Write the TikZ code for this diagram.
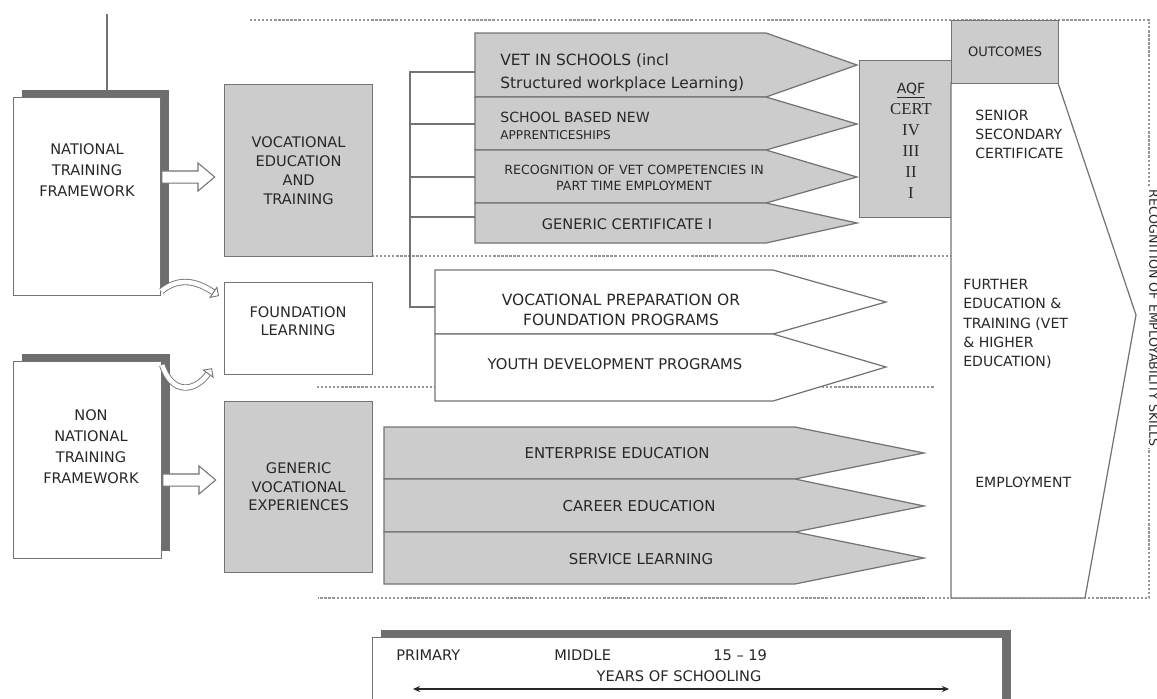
\documentclass[tikz,border=0pt]{standalone}
\usepackage{fontspec}
\setmainfont{DejaVu Sans}
\newfontfamily\aqffont{Liberation Serif}
\usepackage{tikz}
\usetikzlibrary{arrows.meta,shapes.arrows,positioning,shadows}
\definecolor{vgray}{RGB}{204,204,204}
\definecolor{vline}{RGB}{115,115,115}
\definecolor{vshadow}{RGB}{110,110,110}
\definecolor{vtext}{RGB}{40,40,40}
\definecolor{vdot}{RGB}{150,150,150}
\tikzstyle{plainbox} = [rectangle, draw=vline, fill=white, line width=0.7pt, inner sep=0pt, anchor=north west]
\tikzstyle{graybox} = [plainbox, fill=vgray]
\tikzstyle{framebox} = [plainbox, drop shadow={shadow xshift=0.17cm, shadow yshift=0.16cm, fill=vshadow, opacity=1}]
\tikzstyle{txt} = [font=\fontsize{8.3}{11.5}\selectfont, text=vtext, align=center, inner sep=0pt]
\tikzstyle{dotline} = [vdot, line width=0.6pt, dash pattern=on 1.3pt off 1pt]
\tikzstyle{vedge} = [vline, line width=0.7pt]
\tikzstyle{grayarrow} = [vedge, fill=vgray]
\tikzstyle{whitearrow} = [vedge, fill=white]
\tikzstyle{fatarrow} = [single arrow, draw=vline, fill=white, line width=0.6pt, minimum height=1.06cm, minimum width=0.54cm, text height=0.22cm, text depth=0pt, single arrow head extend=0.16cm, single arrow tip angle=80, inner sep=0pt, anchor=tail]
\tikzstyle{bentarrow} = [draw=vline, double=white, double distance=2.6pt, line width=0.5pt, -{Triangle[open, length=4pt, width=8pt]}]

\begin{document}
\begin{tikzpicture}[x=0.02cm, y=-0.02cm]
    \useasboundingbox (0,0) rectangle (1157,698);

    % Dotted frame
    \draw[dotline] (250,20) -- (1149,20) -- (1149,598) -- (318,598);
    \draw[dotline] (372,256) -- (951,256);
    \draw[dotline] (317,387) -- (935,387);

    % Frameworks
    \coordinate (topline) at (107,14);
    \draw[vedge] (topline) -- ++(0,76);
    \node[framebox, minimum width=2.94cm, minimum height=3.96cm] (ntf) at (13,97) {};
    \node[txt, font=\fontsize{8.3}{12}\selectfont] (ntftext) at (87,170) {NATIONAL\\TRAINING\\FRAMEWORK};
    \node[framebox, minimum width=2.96cm, minimum height=3.94cm] (nntf) at (13,361) {};
    \node[txt, font=\fontsize{8.3}{12}\selectfont] (nntftext) at (91,447) {NON\\NATIONAL\\TRAINING\\FRAMEWORK};

    % Middle boxes
    \node[graybox, txt, font=\fontsize{8.3}{10.8}\selectfont, minimum width=2.96cm, minimum height=3.44cm] (vet) at (224,84) {VOCATIONAL\\EDUCATION\\AND\\TRAINING};
    \node[plainbox, minimum width=2.96cm, minimum height=1.84cm] (found) at (224,282) {};
    \node[txt, font=\fontsize{8.3}{10}\selectfont] (foundtext) at (298,321) {FOUNDATION\\LEARNING};
    \node[graybox, txt, font=\fontsize{8.3}{10.5}\selectfont, minimum width=2.96cm, minimum height=3.42cm] (gve) at (224,401) {GENERIC\\VOCATIONAL\\EXPERIENCES};

    % Arrows
    \node[fatarrow] (ntfarrow) at (ntf.east |- 0,177) {};
    \node[fatarrow] (nntfarrow) at (nntf.east |- 0,480) {};
    \draw[bentarrow] ([yshift=0.1cm]ntf.south east) .. controls (180,276) and (198,282) .. ([xshift=-0.1cm, yshift=-0.28cm]found.north west);
    \draw[bentarrow] ([yshift=-0.08cm]nntf.north east) .. controls (172,395) and (195,392) .. ([xshift=-0.24cm, yshift=0.14cm]found.south west);

    % Branches
    \coordinate (c1) at (475,72);
    \coordinate (c2) at (475,124);
    \coordinate (c3) at (475,177);
    \coordinate (c4) at (475,217);
    \coordinate (c5) at (435,307);
    \coordinate (treetop) at (410,72);
    \draw[vedge] (c1) -- (treetop) -- (treetop |- c5) -- (c5);
    \draw[vedge] (treetop |- c2) -- (c2);
    \draw[vedge] (treetop |- c3) -- (c3);
    \draw[vedge] (treetop |- c4) -- (c4);

    % VET programs
    \draw[grayarrow] (475,33) -- (766,33) -- (857,65) -- (766,97) -- (475,97) -- cycle;
    \draw[grayarrow] (475,97) -- (766,97) -- (857,124) -- (766,150) -- (475,150) -- cycle;
    \draw[grayarrow] (475,150) -- (766,150) -- (857,177) -- (766,203) -- (475,203) -- cycle;
    \draw[grayarrow] (475,203) -- (766,203) -- (857,223) -- (766,243) -- (475,243) -- cycle;
    \node[txt, align=left, anchor=west, font=\fontsize{8.8}{13}\selectfont] (vetsch) at (500,73) {VET IN SCHOOLS (incl\\Structured workplace Learning)};
    \node[txt, align=left, anchor=west, font=\fontsize{8}{10}\selectfont] (sbna) at (500,126) {SCHOOL BASED NEW\\{\fontsize{6.9}{8}\selectfont APPRENTICESHIPS}};
    \node[txt, font=\fontsize{7.2}{9.5}\selectfont] (recvet) at (634,178) {RECOGNITION OF VET COMPETENCIES IN\\PART TIME EMPLOYMENT};
    \node[txt, font=\fontsize{8.3}{9}\selectfont] (gencert) at (627,224) {GENERIC CERTIFICATE I};

    % Preparation programs
    \draw[whitearrow] (435,270) -- (773,270) -- (886,302) -- (773,334) -- (435,334) -- cycle;
    \draw[whitearrow] (435,334) -- (773,334) -- (886,367) -- (773,401) -- (435,401) -- cycle;
    \node[txt, font=\fontsize{8.8}{11.5}\selectfont] (vprep) at (621,310) {VOCATIONAL PREPARATION OR\\FOUNDATION PROGRAMS};
    \node[txt, font=\fontsize{8.4}{10}\selectfont] (youth) at (615,364) {YOUTH DEVELOPMENT PROGRAMS};

    % Generic experiences
    \draw[grayarrow] (384,427) -- (795,427) -- (924,453) -- (795,479) -- (384,479) -- cycle;
    \draw[grayarrow] (384,479) -- (795,479) -- (924,506) -- (795,532) -- (384,532) -- cycle;
    \draw[grayarrow] (384,532) -- (795,532) -- (924,558) -- (795,584) -- (384,584) -- cycle;
    \node[txt, font=\fontsize{8.5}{10}\selectfont] (enterp) at (617,453) {ENTERPRISE EDUCATION};
    \node[txt, font=\fontsize{8.5}{10}\selectfont] (career) at (639,506) {CAREER EDUCATION};
    \node[txt, font=\fontsize{8.5}{10}\selectfont] (service) at (641,559) {SERVICE LEARNING};

    % AQF
    \node[graybox, minimum width=1.84cm, minimum height=3.14cm] (aqfbox) at (859,60) {};
    \node[txt, font=\aqffont\fontsize{9.5}{12}\selectfont] (aqf) at (911,141) {{\normalfont\fontsize{8}{12}\selectfont\underline{AQF}}\\CERT\\IV\\III\\II\\I};

    % Outcomes
    \draw[whitearrow] (951,83) -- (1058,83) -- (1136,315) -- (1085,598) -- (951,598) -- cycle;
    \node[graybox, txt, font=\fontsize{7.4}{8}\selectfont, minimum width=2.14cm, minimum height=1.26cm] (outc) at (951,20) {OUTCOMES};
    \node[txt, align=left, anchor=west, font=\fontsize{8}{10.8}\selectfont] (senior) at (975,134) {SENIOR\\SECONDARY\\CERTIFICATE};
    \node[txt, align=left, anchor=west, font=\fontsize{8}{11}\selectfont] (further) at (963,324) {FURTHER\\EDUCATION \&\\TRAINING (VET\\\& HIGHER\\EDUCATION)};
    \node[txt, anchor=west, font=\fontsize{8}{10}\selectfont] (employ) at (975,482) {EMPLOYMENT};
    \node[txt, rotate=-90, fill=white, inner sep=1pt, font=\fontsize{7.2}{9}\selectfont] (recog) at (1154,318) {RECOGNITION OF EMPLOYABILITY SKILLS};

    % Years of schooling
    \node[framebox, minimum width=12.6cm, minimum height=1.8cm] (years) at (372,637) {};
    \node[txt, anchor=west] (primary) at (396,655) {PRIMARY};
    \node[txt, anchor=west] (middle) at (554,655) {MIDDLE};
    \node[txt, anchor=west] (older) at (713,655) {15 -- 19};
    \node[txt] (yrs) at (679,676) {YEARS OF SCHOOLING};
    \coordinate (ystart) at (413,689);
    \coordinate (yend) at (949,689);
    \draw[vtext, line width=0.7pt, {Stealth[length=4pt, width=3.5pt]}-{Stealth[length=4pt, width=3.5pt]}] (ystart) -- (yend);
\end{tikzpicture}
\end{document}
